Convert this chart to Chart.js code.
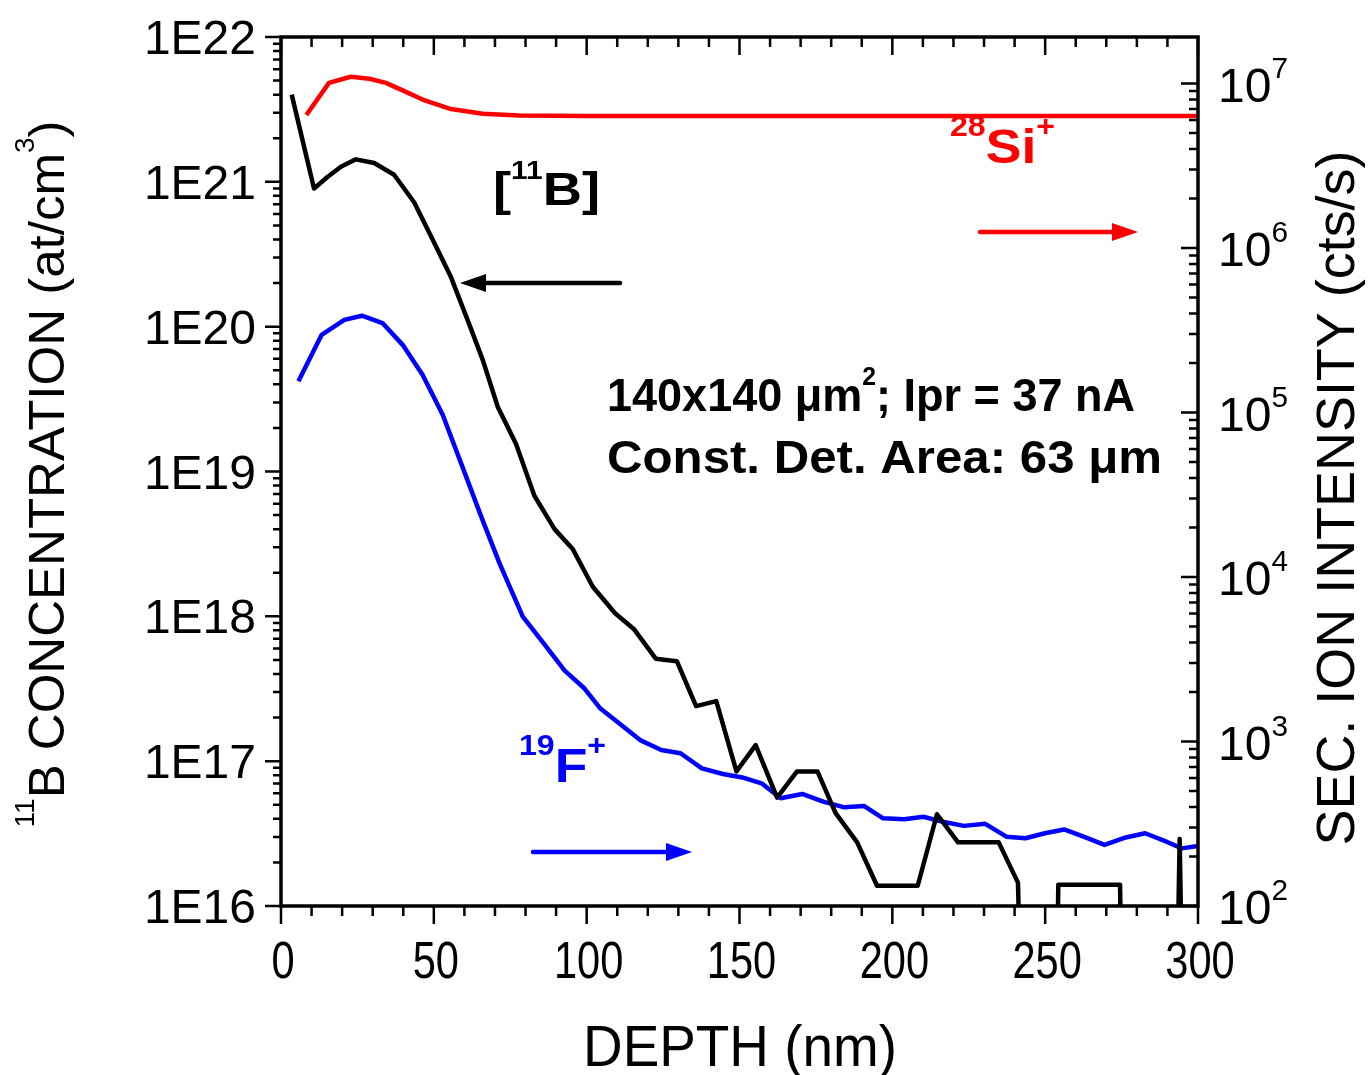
<!DOCTYPE html>
<html>
<head>
<meta charset="utf-8">
<script src="https://cdn.jsdelivr.net/npm/chart.js@4.4.1/dist/chart.umd.min.js"></script>
<style>
html,body{margin:0;padding:0;background:#fff;}
#wrap{width:1369px;height:1075px;}
</style>
</head>
<body>
<div id="wrap"><canvas id="c" width="1369" height="1075"></canvas></div>
<script>
// ---------- DATA ----------
// 11B concentration (left axis, at/cm3) vs depth (nm)
const depthB = [3.5,10.8,15.2,19.6,24.5,30.5,37,43.6,49.6,55.6,61.5,66,70.9,76.9,82.9,89.5,95.5,102,109.3,115.6,122.6,129.5,135.8,142.4,149,155.3,162.3,168.8,175.5,181.4,188.5,195,208.3,214.6,221.5,234.8,241.1,242.5,253.5,254.3,274.5,275.3,292.8,294,295.2];
const boronConc = [4.0e21,9.0e20,1.08e21,1.27e21,1.43e21,1.35e21,1.12e21,7.2e20,4.0e20,2.2e20,1.05e20,5.9e19,2.8e19,1.55e19,6.8e18,4.0e18,2.9e18,1.6e18,1.05e18,8.1e17,5.1e17,4.9e17,2.4e17,2.6e17,8.5e16,1.29e17,5.6e16,8.5e16,8.5e16,4.4e16,2.75e16,1.38e16,1.38e16,4.3e16,2.75e16,2.75e16,1.45e16,1e15,1e15,1.4e16,1.4e16,1e15,1e15,2.9e16,1e15];
// 19F+ intensity (right axis, cts/s)
const depthF = [5.7,13.3,20.7,26.5,33.2,39.8,46.3,52.9,58.9,65.5,71.5,79.1,86.2,92.8,99.3,104.3,110.6,117.5,124.4,130.7,137.7,144.6,150.9,157.2,163.5,170.5,177.4,184.3,190.7,197,203.9,210.2,216.5,223.4,230.4,237.3,243.6,249.9,256.2,263.2,269.4,276.4,282.7,289.7,294.7,300];
const fluorine = [1.55e5,2.97e5,3.66e5,3.88e5,3.5e5,2.58e5,1.70e5,9.7e4,4.93e4,2.33e4,1.21e4,5.75e3,3.9e3,2.7e3,2.1e3,1.6e3,1.29e3,1.02e3,889,849,687,635,605,557,452,480,431,398,406,341,337,349,325,307,316,264,258,277,292,261,235,261,277,246,224,232];
// 28Si+ intensity (right axis, cts/s)
const depthSi = [8.3,15.7,22.8,28.9,34.3,39.8,46.3,55.6,66,78,100,150,200,250,300];
const silicon = [6.44e6,1.01e7,1.10e7,1.07e7,1.01e7,9.1e6,8.0e6,7.0e6,6.55e6,6.4e6,6.35e6,6.35e6,6.35e6,6.35e6,6.35e6];

// tick labels
const xTickValues = [0,50,100,150,200,250,300];
const xTickLabels = ['0','50','100','150','200','250','300'];
const leftTickValues = [1e16,1e17,1e18,1e19,1e20,1e21,1e22];
const leftTickLabels = ['1E16','1E17','1E18','1E19','1E20','1E21','1E22'];
const rightTickValues = [1e2,1e3,1e4,1e5,1e6,1e7];
const rightTickExps = ['2','3','4','5','6','7'];

// ---------- HELPERS ----------
const FAM = '"Liberation Sans", Arial, Helvetica, sans-serif';
function fontStr(size, weight){ return (weight||'normal') + ' ' + size + 'px ' + FAM; }
function richNatural(ctx, segs, size, weight, supScale){
  let w = 0;
  for (const s of segs){ ctx.font = fontStr(s.sup ? size*supScale : size, weight); w += ctx.measureText(s.t).width; }
  return w;
}
function drawRich(ctx, segs, o){
  const size = o.size, weight = o.weight || 'normal', supScale = o.supScale || 0.6, supRaise = o.supRaise || 0.42;
  const nat = richNatural(ctx, segs, size, weight, supScale);
  const sx = o.width ? o.width / nat : (o.sx || 1);
  const total = nat * sx;
  const align = o.align || 'left';
  const start = align === 'left' ? o.x : (align === 'center' ? o.x - total/2 : o.x - total);
  ctx.save();
  ctx.translate(start, o.y);
  ctx.scale(sx, 1);
  ctx.fillStyle = o.color || '#000';
  ctx.textAlign = 'left';
  ctx.textBaseline = 'alphabetic';
  let cx = 0;
  for (const s of segs){
    const fs = s.sup ? size*supScale : size;
    ctx.font = fontStr(fs, weight);
    ctx.fillText(s.t, cx, s.sup ? -size*supRaise : 0);
    cx += ctx.measureText(s.t).width;
  }
  ctx.restore();
}
function drawRichRot(ctx, segs, cx, cy, o){
  ctx.save();
  ctx.translate(cx, cy);
  ctx.rotate(-Math.PI/2);
  drawRich(ctx, segs, Object.assign({}, o, {x:0, y:0, align:'center'}));
  ctx.restore();
}
function arrow(ctx, x1, x2, y, color, dir){
  ctx.save();
  ctx.strokeStyle = color; ctx.fillStyle = color; ctx.lineWidth = 4.5; ctx.lineCap = 'round';
  const hl = 26, hw = 9;
  ctx.beginPath(); ctx.moveTo(x1, y); ctx.lineTo(x2 - dir*hl*0.8, y); ctx.stroke();
  ctx.beginPath(); ctx.moveTo(x2, y); ctx.lineTo(x2 - dir*hl, y - hw); ctx.lineTo(x2 - dir*hl, y + hw); ctx.closePath(); ctx.fill();
  ctx.restore();
}

// ---------- AXES / ANNOTATION PLUGIN ----------
const axesPlugin = {
  id: 'axesPlugin',
  afterDatasetsDraw(chart){
    const ctx = chart.ctx, a = chart.chartArea;
    const xs = chart.scales.x, yl = chart.scales.yL, yr = chart.scales.yR;
    ctx.save();
    ctx.strokeStyle = '#000';
    ctx.lineWidth = 2.5;
    ctx.beginPath();
    for (let d = 0; d <= 300; d += 10){
      const px = xs.getPixelForValue(d);
      const len = d % 50 === 0 ? 18 : 10;
      ctx.moveTo(px, a.top); ctx.lineTo(px, a.top + len);
      ctx.moveTo(px, a.bottom); ctx.lineTo(px, a.bottom + len);
    }
    for (let n = 16; n <= 22; n++){
      const py = yl.getPixelForValue(Math.pow(10, n));
      ctx.moveTo(a.left, py); ctx.lineTo(a.left - 16, py);
      if (n < 22){
        for (let k = 2; k <= 9; k++){
          const q = yl.getPixelForValue(k * Math.pow(10, n));
          ctx.moveTo(a.left, q); ctx.lineTo(a.left - 8, q);
        }
      }
    }
    for (let n = 2; n <= 7; n++){
      const py = yr.getPixelForValue(Math.pow(10, n));
      ctx.moveTo(a.right, py); ctx.lineTo(a.right - 17, py);
      for (let k = 2; k <= 9; k++){
        const v = k * Math.pow(10, n);
        if (v > yr.max) break;
        const q = yr.getPixelForValue(v);
        ctx.moveTo(a.right, q); ctx.lineTo(a.right - 9, q);
      }
    }
    ctx.stroke();
    ctx.lineWidth = 3.5;
    ctx.strokeRect(a.left, a.top, a.right - a.left, a.bottom - a.top);
    ctx.restore();

    // tick labels
    xTickValues.forEach((v, i) => {
      drawRich(ctx, [{t: xTickLabels[i]}], {x: xs.getPixelForValue(v) + 2, y: 978, size: 52, sx: 0.8, align: 'center'});
    });
    leftTickValues.forEach((v, i) => {
      drawRich(ctx, [{t: leftTickLabels[i]}], {x: 256, y: yl.getPixelForValue(v) + 17, size: 48, align: 'right'});
    });
    rightTickValues.forEach((v, i) => {
      drawRich(ctx, [{t: '10'}, {t: rightTickExps[i], sup: true}], {x: 1218, y: yr.getPixelForValue(v) + 18, size: 48, supScale: 0.62, supRaise: 0.5, align: 'left'});
    });

    // axis titles
    drawRich(ctx, [{t: 'DEPTH (nm)'}], {x: 740, y: 1066, size: 58, width: 314, align: 'center'});
    drawRichRot(ctx, [{t: '11', sup: true}, {t: 'B CONCENTRATION (at/cm'}, {t: '3', sup: true}, {t: ')'}], 64, 474, {size: 50, width: 707, supScale: 0.55, supRaise: 0.6});
    drawRichRot(ctx, [{t: 'SEC. ION INTENSITY (cts/s)'}], 1354, 498, {size: 53, width: 695});

    // annotations
    drawRich(ctx, [{t: '['}, {t: '11', sup: true}, {t: 'B]'}], {x: 493, y: 205, size: 47, weight: 'bold', width: 107, supScale: 0.55, supRaise: 0.55});
    drawRich(ctx, [{t: '140x140 \u03BCm'}, {t: '2', sup: true}, {t: '; Ipr = 37 nA'}], {x: 607, y: 411, size: 47, weight: 'bold', width: 528, supScale: 0.55, supRaise: 0.55});
    drawRich(ctx, [{t: 'Const. Det. Area: 63 \u03BCm'}], {x: 607, y: 473, size: 47, weight: 'bold', width: 555});
    drawRich(ctx, [{t: '28', sup: true}, {t: 'Si'}, {t: '+', sup: true}], {x: 950, y: 163, size: 49, weight: 'bold', width: 105, color: '#ff0000', supScale: 0.6, supRaise: 0.55});
    drawRich(ctx, [{t: '19', sup: true}, {t: 'F'}, {t: '+', sup: true}], {x: 519, y: 782, size: 49, weight: 'bold', width: 87, color: '#0000ff', supScale: 0.6, supRaise: 0.55});

    arrow(ctx, 620, 460, 283, '#000', -1);
    arrow(ctx, 980, 1138, 232, '#ff0000', 1);
    arrow(ctx, 533, 692, 852, '#0000ff', 1);
  }
};

// ---------- CHART ----------
const toXY = (xs, ys) => xs.map((x, i) => ({x: x, y: ys[i]}));

new Chart(document.getElementById('c'), {
  type: 'line',
  data: {
    datasets: [
      {label: '11B', data: toXY(depthB, boronConc), yAxisID: 'yL', borderColor: '#000000', borderWidth: 4.5, pointRadius: 0, tension: 0, borderJoinStyle: 'round', fill: false},
      {label: '19F+', data: toXY(depthF, fluorine), yAxisID: 'yR', borderColor: '#0000ff', borderWidth: 4.5, pointRadius: 0, tension: 0, borderJoinStyle: 'round', fill: false},
      {label: '28Si+', data: toXY(depthSi, silicon), yAxisID: 'yR', borderColor: '#ff0000', borderWidth: 4.5, pointRadius: 0, tension: 0, borderJoinStyle: 'round', fill: false}
    ]
  },
  options: {
    responsive: false,
    devicePixelRatio: 1,
    animation: false,
    parsing: true,
    layout: {padding: {left: 281, right: 171, top: 37, bottom: 169}},
    plugins: {legend: {display: false}, tooltip: {enabled: false}},
    scales: {
      x: {type: 'linear', min: 0, max: 300, display: false},
      yL: {type: 'logarithmic', position: 'left', min: 1e16, max: 1e22, display: false},
      yR: {type: 'logarithmic', position: 'right', min: 100, max: 1.92e7, display: false}
    }
  },
  plugins: [axesPlugin]
});
</script>
</body>
</html>
